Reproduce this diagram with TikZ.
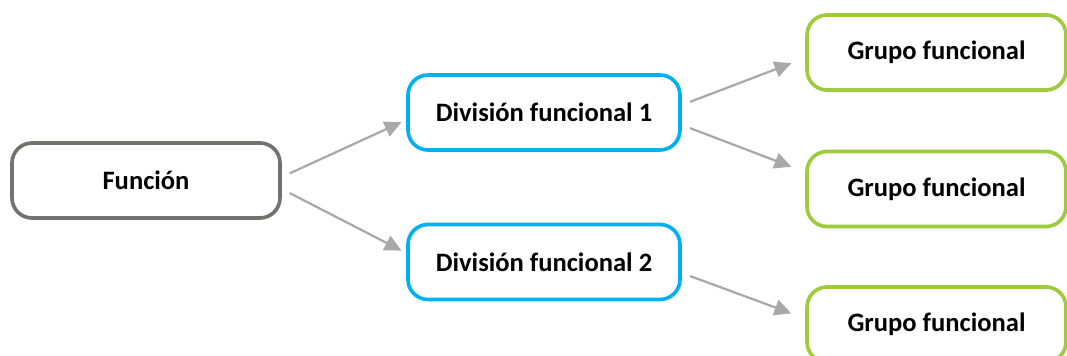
\documentclass[tikz,border=0pt]{standalone}
\usepackage{fontspec}
\setmainfont{Carlito}
\usetikzlibrary{arrows.meta}
\definecolor{boxgray}{HTML}{767171}
\definecolor{boxblue}{HTML}{00B0F0}
\definecolor{boxgreen}{HTML}{9DCB3B}
\definecolor{arrgray}{HTML}{A9A9AC}

\begin{document}
\begin{tikzpicture}
  [box/.style={rectangle,rounded corners=0.5cm,line width=2.6pt,fill=white,
     minimum height=1.875cm,inner sep=0pt,font=\fontsize{18.9}{22}\selectfont\bfseries},
   fbox/.style={box,draw=boxgray,minimum width=6.7cm},
   dbox/.style={box,draw=boxblue,minimum width=6.8cm},
   gbox/.style={box,draw=boxgreen,minimum width=6.475cm},
   arr/.style={draw=arrgray,line width=1.6pt,-{Triangle[length=0.42cm,width=0.4cm]}}]
  \useasboundingbox (0,0) rectangle (26.675,8.9);
  \node[fbox] (nf)  at (3.65,4.3875)    {Función};
  \node[dbox] (nd1) at (13.6,6.0875)    {División funcional 1};
  \node[dbox] (nd2) at (13.6,2.35)      {División funcional 2};
  \node[gbox] (ng1) at (23.4125,7.5875) {Grupo funcional};
  \node[gbox] (ng2) at (23.4125,4.175)  {Grupo funcional};
  \node[gbox] (ng3) at (23.4125,0.7875) {Grupo funcional};
    \foreach \from/\to/\a/\b/\s in {nf/nd1/0.0875/-0.1875/0.13, nf/nd2/-0.2125/0.225/0.13,
      nd1/ng1/0.1875/-0.1375/0.37, nd1/ng2/-0.3125/0.425/0.37, nd2/ng3/-0.275/0.15/0.37}
    \draw[arr,shorten <=0.22cm,shorten >=\s cm] ([yshift=\a cm]\from.east) -- ([yshift=\b cm]\to.west);
\end{tikzpicture}
\end{document}
